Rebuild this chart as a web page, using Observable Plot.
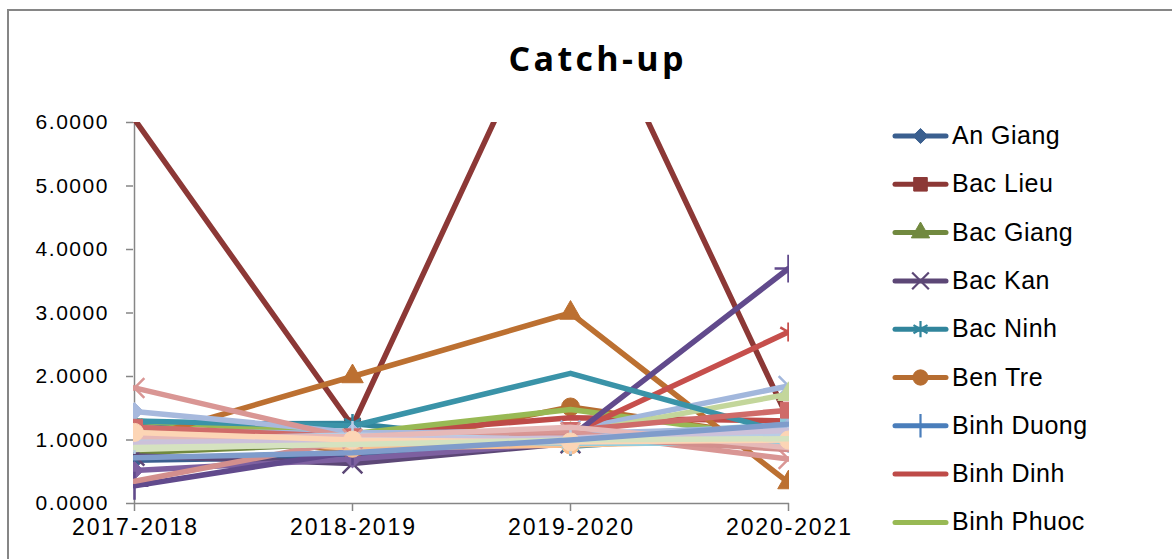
<!DOCTYPE html>
<html>
<head>
<meta charset="utf-8">
<title>Catch-up</title>
<script src="https://cdn.jsdelivr.net/npm/d3@7"></script>
<script src="https://cdn.jsdelivr.net/npm/@observablehq/plot@0.6"></script>
<style>
  html, body { margin: 0; padding: 0; background: #fff; overflow: hidden; }
  #chart { position: relative; width: 1172px; height: 559px; overflow: hidden; background: #fff; }
  #chart > svg { position: absolute; left: 0; top: 0; }
</style>
</head>
<body>
<div id="chart"></div>
<script>
// Periods on the category axis
const periods = ["2017-2018", "2018-2019", "2019-2020", "2020-2021"];

// Provinces, in series order
const provinces = [
  "An Giang", "Bac Lieu", "Bac Giang", "Bac Kan", "Bac Ninh", "Ben Tre",
  "Binh Duong", "Binh Dinh", "Binh Phuoc", "Binh Thuan", "Ca Mau", "Can Tho",
  "Cao Bang", "Da Nang", "Dak Lak", "Dak Nong", "Dien Bien", "Dong Nai",
  "Dong Thap", "Gia Lai", "Ha Giang", "Ha Nam", "Ha Noi", "Ha Tinh",
  "Hai Duong", "Hai Phong", "Hau Giang", "Hoa Binh", "Hung Yen", "Khanh Hoa"
];

// Catch-up index per province, one array per period
const catchUp2017_2018 = [
  0.68, 6.05, 0.80, 0.75, 1.25, 1.15,
  1.02, 1.05, 1.30, 0.52, 0.95, 1.00,
  1.15, 1.10, 1.20, 0.28, 1.30, 1.08,
  1.45, 1.20, 0.85, 1.82, 1.00, 0.35,
  1.00, 1.05, 0.95, 1.12, 0.88, 0.72
];
const catchUp2018_2019 = [
  0.74, 1.22, 0.95, 0.63, 1.26, 0.83,
  1.05, 1.08, 1.10, 0.70, 1.02, 2.00,
  1.10, 1.00, 1.00, 0.82, 1.22, 0.87,
  1.12, 1.05, 0.95, 1.02, 1.00, 1.00,
  1.08, 1.05, 1.00, 1.00, 0.93, 0.80
];
const catchUp2019_2020 = [
  0.97, 8.60, 1.02, 0.95, 0.90, 1.52,
  0.98, 1.35, 1.48, 0.96, 1.05, 3.00,
  1.15, 1.10, 1.10, 1.05, 2.05, 0.92,
  1.10, 1.15, 1.02, 1.12, 0.95, 1.05,
  1.00, 1.20, 1.03, 0.97, 1.00, 1.00
];
const catchUp2020_2021 = [
  1.05, 1.32, 1.00, 0.98, 1.12, 1.02,
  1.20, 1.30, 1.02, 0.95, 1.24, 0.33,
  1.85, 2.70, 1.72, 3.70, 1.10, 1.00,
  1.20, 1.47, 1.05, 0.70, 0.95, 0.85,
  1.08, 0.88, 1.15, 1.00, 1.02, 1.25
];

// Value axis ticks and the number of legend entries shown
const yTicks = [0, 1, 2, 3, 4, 5, 6];
const legendCount = 9;

// Line colour and marker for each series
const seriesColors = [
  "#3A5F8F", "#8C3836", "#71893F", "#5C4776", "#31859C", "#B66D31",
  "#4A7EBB", "#BE4B48", "#98B954", "#7D60A0", "#8CC6D8", "#BC7031",
  "#A2B7DC", "#C64F4C", "#C3D69B", "#614A8C", "#3A93A8", "#FAC090",
  "#A7B9DD", "#CF6B69", "#D7E4BD", "#D99694", "#93CDDD", "#D38F8D",
  "#B9CDE5", "#E6B9B8", "#CCC1DA", "#FCD5B5", "#D5E2C0", "#7F9CCB"
];
const seriesSymbols = [
  "diamond2", "square", "triangle", "times", "asterisk", "circle",
  "plus", null, null, "diamond2", "square", "triangle",
  "times", "asterisk", "triangle", "plus", null, "circle",
  "diamond2", "square", null, "times", "asterisk", null,
  "plus", null, null, "circle", null, null
];

const filledSymbols = new Set(["diamond2", "square", "triangle", "circle"]);
const symbolRadius = { diamond2: 8, square: 9, triangle: 8, circle: 9, times: 9, asterisk: 9, plus: 9 };
const d3Symbols = {
  diamond2: d3.symbolDiamond2, square: d3.symbolSquare, triangle: d3.symbolTriangle,
  circle: d3.symbolCircle, times: d3.symbolTimes, asterisk: d3.symbolAsterisk, plus: d3.symbolPlus
};

const columns = [catchUp2017_2018, catchUp2018_2019, catchUp2019_2020, catchUp2020_2021];
const rows = provinces.flatMap((province, i) =>
  periods.map((period, j) => ({ province, period, value: columns[j][i] }))
);

const yMax = d3.max(yTicks);
const axisGray = "#868686";
const labelFont = "'Liberation Sans', Arial, sans-serif";

const marks = [
  Plot.ruleX([periods[0]], { stroke: axisGray, strokeWidth: 1.5 }),
  Plot.ruleY([0], { stroke: axisGray, strokeWidth: 1.5 }),
  Plot.axisY(yTicks, {
    tickSize: 7, tickPadding: 19, tickFormat: d3.format(".4f"), label: null,
    stroke: axisGray, strokeWidth: 1.5, fill: "black", fontSize: 21
  }),
  Plot.axisX({
    tickSize: 8, tickPadding: 7, label: null, stroke: axisGray, strokeWidth: 1.5,
    fill: "black", fontSize: 23
  })
];

// Each series: its line, then its markers (only those inside the value range)
provinces.forEach((province, i) => {
  const pts = rows.filter(d => d.province === province);
  const color = seriesColors[i];
  marks.push(Plot.line(pts, {
    x: "period", y: "value", stroke: color, strokeWidth: 5.5,
    strokeLinejoin: "round", strokeLinecap: "round", clip: true
  }));
  const sym = seriesSymbols[i];
  if (sym) {
    const visible = pts.filter(d => d.value >= 0 && d.value <= yMax);
    const paint = filledSymbols.has(sym)
      ? { fill: color, stroke: color, strokeWidth: 1 }
      : { fill: "none", stroke: color, strokeWidth: 2.5 };
    marks.push(Plot.dot(visible, {
      x: "period", y: "value", symbol: sym, r: symbolRadius[sym], ...paint, clip: true
    }));
  }
});

const plot = Plot.plot({
  width: 1172,
  height: 559,
  marginLeft: 133,
  marginRight: 383,
  marginTop: 122,
  marginBottom: 56,
  x: { type: "point", domain: periods, padding: 0, label: null },
  y: { domain: [0, yMax], label: null },
  style: {
    fontFamily: labelFont,
    color: "black",
    background: "transparent",
    overflow: "visible"
  },
  marks
});

// Tick label typography: fixed face, size and run length
d3.select(plot).selectAll('g[aria-label="y-axis tick label"] text')
  .style("font-family", labelFont).style("font-size", "21px")
  .attr("textLength", 72).attr("lengthAdjust", "spacing");
d3.select(plot).selectAll('g[aria-label="x-axis tick label"] text')
  .style("font-family", labelFont).style("font-size", "23px")
  .attr("textLength", 125).attr("lengthAdjust", "spacing");

const container = document.getElementById("chart");
container.appendChild(plot);

// Chart frame, title and legend
const overlay = d3.create("svg")
  .attr("width", 1172)
  .attr("height", 559)
  .style("pointer-events", "none");

overlay.append("path")
  .attr("d", "M8,620V10H1200")
  .attr("fill", "none")
  .attr("stroke", axisGray)
  .attr("stroke-width", 2);

overlay.append("text")
  .attr("x", 596)
  .attr("y", 71)
  .attr("text-anchor", "middle")
  .style("font-family", "'Open Sans', Lato, sans-serif")
  .style("font-weight", 700)
  .style("font-size", "34px")
  .attr("textLength", 175)
  .attr("lengthAdjust", "spacing")
  .attr("fill", "black")
  .text("Catch-up");

provinces.slice(0, legendCount).forEach((name, i) => {
  const g = overlay.append("g").attr("transform", `translate(0,${136 + i * 48.3})`);
  const color = seriesColors[i];
  g.append("line")
    .attr("x1", 895).attr("x2", 946)
    .attr("stroke", color).attr("stroke-width", 5).attr("stroke-linecap", "round");
  const sym = seriesSymbols[i];
  if (sym) {
    const r = symbolRadius[sym] * 0.85;
    const path = d3.symbol(d3Symbols[sym], Math.PI * r * r)();
    const filled = filledSymbols.has(sym);
    g.append("path")
      .attr("transform", "translate(920.5,0)")
      .attr("d", path)
      .attr("fill", filled ? color : "none")
      .attr("stroke", color)
      .attr("stroke-width", filled ? 1 : 2.2);
  }
  g.append("text")
    .attr("x", 952)
    .attr("y", 8)
    .style("font-family", labelFont)
    .style("font-size", "25px")
    .style("letter-spacing", "0.5px")
    .attr("fill", "black")
    .text(name);
});

container.appendChild(overlay.node());
</script>
</body>
</html>
